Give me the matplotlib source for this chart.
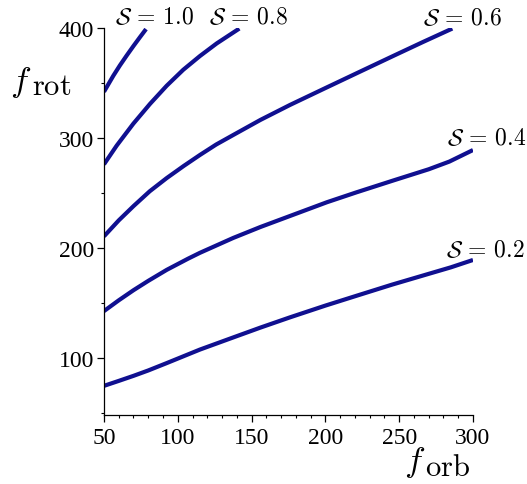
import matplotlib
matplotlib.use('Agg')
import matplotlib.pyplot as plt
from matplotlib.ticker import MultipleLocator

plt.rcParams['mathtext.fontset'] = 'cm'

# values, one curve per S
x_s02 = [50, 60, 70, 80, 92.5, 100, 115, 137.5, 156, 176, 200, 221, 245, 266, 285, 300]
y_s02 = [74.5, 79, 83.6, 88.5, 95.2, 99.3, 107.5, 118.5, 127.5, 136.8, 147.5, 156.4, 166.5, 174.8, 182.3, 189]

x_s04 = [50, 60, 70, 80, 92.5, 107, 115, 137.5, 156, 176, 201, 221, 246, 270, 284, 300]
y_s04 = [142.5, 152.3, 161.5, 170, 180, 190.2, 195.5, 209, 219, 229, 241.5, 250.5, 261.3, 271.5, 278.5, 289]

x_s06 = [50, 60, 70, 81, 92.5, 104, 115, 126, 138, 156, 176, 201, 223, 246, 266, 286]
y_s06 = [210.5, 225, 238, 251.5, 263.5, 274.5, 284.5, 294, 303, 316.4, 330, 346, 360, 374.6, 387.2, 399.5]

x_s08 = [50, 58.6, 69.9, 81.2, 92.5, 103.7, 115, 126.4, 141.7]
y_s08 = [276, 293, 313, 331, 347.5, 362, 374.5, 386, 399.5]

x_s10 = [50, 56.3, 60.8, 65.4, 69.9, 74.4, 78.5]
y_s10 = [342, 356.5, 366, 375, 383.5, 391.7, 399]

curves = [(x_s02, y_s02), (x_s04, y_s04), (x_s06, y_s06), (x_s08, y_s08), (x_s10, y_s10)]
labels = [r'$\mathcal{S}\,=\,0.2$', r'$\mathcal{S}\,=\,0.4$', r'$\mathcal{S}\,=\,0.6$',
          r'$\mathcal{S}\,=\,0.8$', r'$\mathcal{S}\,=\,1.0$']
label_pos = [(281.7, 199), (282.4, 301), (266, 410), (121, 411), (57.5, 411)]

fig = plt.figure(figsize=(5.27, 4.85), dpi=100)
ax = fig.add_axes([0.1973, 0.1423, 0.7002, 0.7979])

for (xs, ys), lab, (tx, ty) in zip(curves, labels, label_pos):
    ax.plot(xs, ys, color='#101090', lw=3.0, solid_capstyle='butt', solid_joinstyle='round')
    ax.text(tx, ty, lab, ha='left', va='center', fontsize=17, clip_on=False)

ax.set_xlim(50, 300)
ax.set_ylim(48, 400)

for side in ['top', 'right']:
    ax.spines[side].set_visible(False)
ax.spines['left'].set_linewidth(0.9)
ax.spines['bottom'].set_linewidth(0.9)

ax.xaxis.set_major_locator(MultipleLocator(50))
ax.xaxis.set_minor_locator(MultipleLocator(10))
ax.yaxis.set_major_locator(MultipleLocator(100))
ax.yaxis.set_minor_locator(MultipleLocator(50))
ax.tick_params(which='major', length=5, width=0.9, labelsize=17)
ax.tick_params(which='minor', length=2.5, width=0.8)
for lbl in ax.get_xticklabels() + ax.get_yticklabels():
    lbl.set_family('Liberation Serif')
ax.tick_params(axis='x', pad=4)
ax.tick_params(axis='y', pad=2)

# axis titles: italic f with a roman subscript of nearly the same size
fig.text(0.019, 1 - 90.5 / 485, r'$f$', fontsize=25, ha='left', va='baseline')
fig.text(0.0600, 1 - 95 / 485, r'$\mathrm{rot}$', fontsize=22, ha='left', va='baseline')
fig.text(0.766, 1 - 471.5 / 485, r'$f$', fontsize=25, ha='left', va='baseline')
fig.text(0.806, 1 - 476.5 / 485, r'$\mathrm{orb}$', fontsize=22, ha='left', va='baseline')

fig.savefig('out.png', dpi=100)
